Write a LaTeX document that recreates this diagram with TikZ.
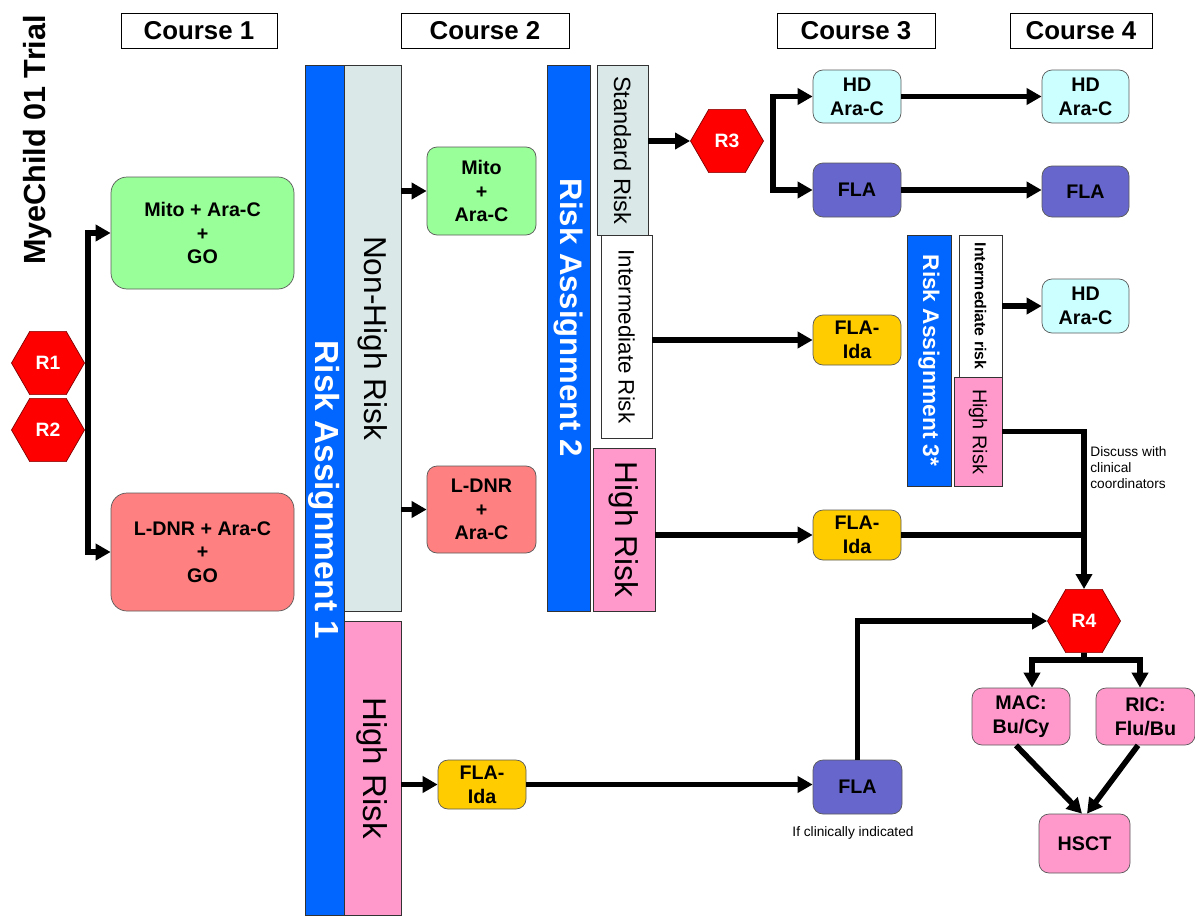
\documentclass[tikz,border=0pt]{standalone}
\usepackage{fontspec}
\usepackage{graphicx}
\setmainfont{Liberation Sans}
\usepackage{tikz}
\usetikzlibrary{arrows.meta,shapes.geometric}
\definecolor{raBlue}{RGB}{0,102,255}
\definecolor{paleTeal}{RGB}{218,232,232}
\definecolor{riskPink}{RGB}{255,153,204}
\definecolor{boxGreen}{RGB}{153,255,153}
\definecolor{boxSalmon}{RGB}{255,128,128}
\definecolor{boxCyan}{RGB}{204,255,255}
\definecolor{boxPurple}{RGB}{102,102,204}
\definecolor{boxGold}{RGB}{255,204,0}
\definecolor{hexRed}{RGB}{255,0,0}

\begin{document}
\begin{tikzpicture}[
  box/.style={draw=black!65, thin, rounded corners=0.2cm, align=center, inner sep=1pt,
              font=\fontsize{11.2}{13.5}\selectfont\bfseries},
  bigbox/.style={box, rounded corners=0.32cm},
  hexnode/.style={regular polygon, regular polygon sides=6, draw=red!50!black, thin,
              fill=hexRed, text=white, minimum size=1.46cm, inner sep=0pt,
              font=\fontsize{11}{13}\selectfont\bfseries},
  coursebox/.style={draw, thin, fill=white, minimum height=0.7cm, inner sep=0pt,
              font=\fontsize{14.7}{16}\selectfont\bfseries},
  rabar/.style={draw=black!80, thin, fill=raBlue, text=white, inner sep=0pt,
              font=\fontsize{#1}{#1}\selectfont\bfseries},
  riskbar/.style={draw=black!80, thin, inner sep=0pt, font=\fontsize{#1}{#1}\selectfont},
  note/.style={font=\fontsize{7.8}{9}\selectfont, align=left, inner sep=0pt},
  arr/.style={-{Triangle[length=3mm,width=3.2mm]}, line width=3.2pt},
  plain/.style={line width=3.2pt}
]
\useasboundingbox (0,0) rectangle (23.9,-18.3);

\node[rotate=90, font=\fontsize{17.4}{19}\selectfont\bfseries] (title) at (0.76,-2.8) {MyeChild 01 Trial};

\node[coursebox, minimum width=3.12cm] (c1) at (3.98,-0.61) {Course 1};
\node[coursebox, minimum width=3.36cm] (c2) at (9.70,-0.61) {Course 2};
\node[coursebox, minimum width=3.16cm] (c3) at (17.12,-0.61) {Course 3};
\node[coursebox, minimum width=2.84cm] (c4) at (21.62,-0.61) {Course 4};

% course 1
\node[hexnode] (r1) at (0.96,-7.26) {R1};
\node[hexnode] (r2) at (0.96,-8.6) {R2};
\node[bigbox, fill=boxGreen, minimum width=3.66cm, minimum height=2.24cm] (mito1) at (4.05,-4.66)
  {Mito + Ara-C\\+\\GO};
\node[bigbox, fill=boxSalmon, minimum width=3.66cm, minimum height=2.36cm] (ldnr1) at (4.05,-11.04)
  {L-DNR + Ara-C\\+\\GO};
\coordinate (split1) at (1.76,-7.93);
\draw[arr] (split1) |- (mito1.west);
\draw[arr] (split1) |- (ldnr1.west);

% risk assignment 1
\node[rabar=19, minimum width=0.78cm, minimum height=17cm] (ra1) at (6.49,-9.8)
  {\rotatebox{-90}{Risk Assignment 1}};
\node[riskbar=18, fill=paleTeal, minimum width=1.14cm, minimum height=10.92cm] (nhr1) at (7.45,-6.76)
  {\rotatebox{-90}{Non-High Risk}};
\node[riskbar=18.8, fill=riskPink, minimum width=1.14cm, minimum height=5.88cm] (hr1) at (7.45,-15.36)
  {\rotatebox{-90}{High Risk}};

% course 2
\node[box, fill=boxGreen, minimum width=2.18cm, minimum height=1.76cm] (mito2) at (9.63,-3.82)
  {Mito\\+\\Ara-C};
\node[box, fill=boxSalmon, minimum width=2.18cm, minimum height=1.74cm] (ldnr2) at (9.63,-10.19)
  {L-DNR\\+\\Ara-C};
\node[box, fill=boxGold, minimum width=1.76cm, minimum height=0.98cm] (flaida1) at (9.64,-15.69)
  {FLA-\\Ida};
\draw[arr] (nhr1.east |- mito2.west) -- (mito2.west);
\draw[arr] (nhr1.east |- ldnr2.west) -- (ldnr2.west);
\draw[arr] (hr1.east |- flaida1.west) -- (flaida1.west);

% risk assignment 2
\node[rabar=17.7, minimum width=0.86cm, minimum height=10.92cm] (ra2) at (11.37,-6.76)
  {\rotatebox{-90}{Risk Assignment 2\hspace*{0.8cm}}};
\node[riskbar=13.4, fill=paleTeal, minimum width=1.02cm, minimum height=3.4cm] (std) at (12.45,-3.0)
  {\rotatebox{-90}{Standard Risk}};
\node[riskbar=12.7, fill=white, minimum width=1.02cm, minimum height=4.06cm] (int) at (12.53,-6.73)
  {\rotatebox{-90}{Intermediate Risk}};
\node[riskbar=18, fill=riskPink, minimum width=1.24cm, minimum height=3.26cm] (hr2) at (12.48,-10.59)
  {\rotatebox{-90}{High Risk}};

% course 3 and 4
\node[hexnode] (r3) at (14.54,-2.82) {R3};
\draw[arr] (std.east |- r3.west) -- (r3.west);
\coordinate (split3) at (15.46,-2.82);
\node[box, fill=boxCyan, minimum width=1.76cm, minimum height=1.06cm] (hdac3) at (17.14,-1.93) {HD\\Ara-C};
\node[box, fill=boxPurple, minimum width=1.76cm, minimum height=1.08cm] (fla3) at (17.14,-3.8) {FLA};
\node[box, fill=boxCyan, minimum width=1.74cm, minimum height=1.06cm] (hdac4) at (21.71,-1.93) {HD\\Ara-C};
\node[box, fill=boxPurple, minimum width=1.74cm, minimum height=1.02cm] (fla4) at (21.71,-3.83) {FLA};
\draw[arr] (split3) |- (hdac3.west);
\draw[arr] (split3) |- (fla3.west);
\draw[arr] (hdac3.east) -- (hdac3.east -| hdac4.west);
\draw[arr] (fla3.east) -- (fla3.east -| fla4.west);

\node[box, fill=boxGold, minimum width=1.76cm, minimum height=1.0cm] (flaida2) at (17.14,-6.8) {FLA-\\Ida};
\draw[arr] (int.east |- flaida2.west) -- (flaida2.west);

% risk assignment 3
\node[rabar=12.9, minimum width=0.88cm, minimum height=5.02cm] (ra3) at (18.58,-7.21)
  {\rotatebox{-90}{Risk Assignment 3*}};
\node[riskbar=9, fill=white, minimum width=0.86cm, minimum height=2.84cm, font=\fontsize{9}{9}\selectfont\bfseries]
  (int3) at (19.61,-6.12) {\rotatebox{-90}{Intermediate risk}};
\node[riskbar=11.3, fill=riskPink, minimum width=0.96cm, minimum height=2.18cm] (hr3) at (19.56,-8.63)
  {\rotatebox{-90}{High Risk}};
\node[box, fill=boxCyan, minimum width=1.74cm, minimum height=1.08cm] (hdac5) at (21.71,-6.12) {HD\\Ara-C};
\draw[arr] (int3.east |- hdac5.west) -- (hdac5.west);

\node[box, fill=boxGold, minimum width=1.76cm, minimum height=1.0cm] (flaida3) at (17.14,-10.7) {FLA-\\Ida};
\draw[arr] (hr2.east |- flaida3.west) -- (flaida3.west);

% transplant
\node[hexnode] (r4) at (21.68,-12.42) {R4};
\node[note, anchor=west] (discuss) at (21.8,-9.35) {Discuss with\\clinical\\coordinators};
\draw[arr] (hr3.east) -| (r4.north);
\draw[plain] (flaida3.east) -- (flaida3.east -| r4.north);

\node[box, fill=boxPurple, minimum width=1.78cm, minimum height=1.08cm] (fla5) at (17.15,-15.74) {FLA};
\node[note] (ifclin) at (17.06,-16.66) {If clinically indicated};
\draw[arr] (flaida1.east) -- (flaida1.east -| fla5.west);
\draw[arr] (fla5.north) |- (r4.west);

\coordinate (split4) at (21.68,-13.2);
\node[box, fill=riskPink, minimum width=1.96cm, minimum height=1.14cm] (mac) at (20.42,-14.33) {MAC:\\Bu/Cy};
\node[box, fill=riskPink, minimum width=1.98cm, minimum height=1.14cm] (ric) at (22.91,-14.33) {RIC:\\Flu/Bu};
\node[box, fill=riskPink, minimum width=1.82cm, minimum height=1.18cm] (hsct) at (21.69,-16.87) {HSCT};
\draw[plain] (r4.south) -- (split4);
\draw[arr] (split4) -| ([xshift=0.22cm]mac.north);
\draw[arr] (split4) -| ([xshift=-0.11cm]ric.north);
\draw[arr] ([xshift=-0.1cm]mac.south) -- ([xshift=-0.05cm]hsct.north);
\draw[arr] ([xshift=-0.15cm]ric.south) -- ([xshift=0.05cm]hsct.north);

\end{tikzpicture}
\end{document}
